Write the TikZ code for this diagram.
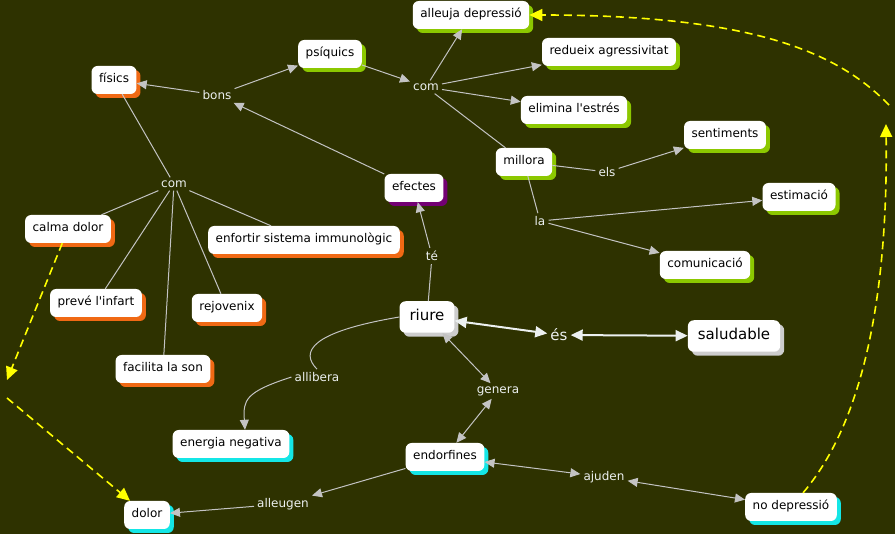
\documentclass[tikz,border=0pt]{standalone}
\usepackage{fontspec}
\setmainfont{DejaVu Sans}[Ligatures=TeXOff]
\usetikzlibrary{arrows.meta,shadows}

\definecolor{fons}{RGB}{46,50,0}
\definecolor{linia}{RGB}{195,195,195}
\definecolor{taronja}{RGB}{240,105,20}
\definecolor{verd}{RGB}{140,200,0}
\definecolor{lila}{RGB}{115,0,115}
\definecolor{cian}{RGB}{20,230,230}
\definecolor{gris}{RGB}{205,205,205}
\definecolor{groc}{RGB}{255,255,0}
\definecolor{blanc}{RGB}{236,240,240}

\tikzset{
  concepte/.style={fill=white, rounded corners=6pt, inner xsep=7.5pt, inner ysep=8pt,
    text height=9pt, text depth=3pt, font=\fontsize{12}{14}\selectfont},
  gran/.style={concepte, inner xsep=10pt, inner ysep=8.5pt, text height=11pt, text depth=3.5pt,
    font=\fontsize{15}{17}\selectfont},
  ombra/.style={drop shadow={shadow xshift=4pt, shadow yshift=-4pt, fill=#1, opacity=1}},
  frase/.style={text=blanc, inner sep=3pt, font=\fontsize{12}{14}\selectfont},
  enllac/.style={draw=linia, line width=1pt},
  fletxa/.style={enllac, -{Triangle[length=10pt,width=9pt]}},
  doble/.style={enllac, {Triangle[length=10pt,width=9pt]}-{Triangle[length=10pt,width=9pt]}},
  gruixut/.style={draw=blanc, line width=2pt, {Triangle[length=12pt,width=11pt]}-{Triangle[length=12pt,width=11pt]}},
  discontinu/.style={draw=groc, line width=1.6pt, dash pattern=on 8pt off 5pt, -{Triangle[length=13pt,width=12pt]}}
}

\begin{document}
\begin{tikzpicture}[x=1pt,y=-1pt]
  \path[use as bounding box, fill=fons] (0,0) rectangle (895,534);

  % Conceptes
  \node[gran, ombra=gris] (riure) at (427,317) {riure};
  \node[gran, ombra=gris] (saludable) at (734,336) {saludable};
  \node[concepte, ombra=lila] (efectes) at (414,188) {efectes};
  \node[concepte, ombra=taronja] (fisics) at (114,80) {físics};
  \node[concepte, ombra=verd] (psiquics) at (330,54) {psíquics};
  \node[concepte, ombra=verd] (alleuja) at (471,15) {alleuja depressió};
  \node[concepte, ombra=verd] (redueix) at (609,52) {redueix agressivitat};
  \node[concepte, ombra=verd] (elimina) at (574,110) {elimina l'estrés};
  \node[concepte, ombra=verd] (millora) at (524,162) {millora};
  \node[concepte, ombra=verd] (sentiments) at (725,135) {sentiments};
  \node[concepte, ombra=verd] (estimacio) at (799,197) {estimació};
  \node[concepte, ombra=verd] (comunicacio) at (705,265) {comunicació};
  \node[concepte, ombra=taronja] (calma) at (68,229) {calma dolor};
  \node[concepte, ombra=taronja] (enfortir) at (304,240) {enfortir sistema immunològic};
  \node[concepte, ombra=taronja] (preve) at (96,303) {prevé l'infart};
  \node[concepte, ombra=taronja] (rejovenix) at (227,308) {rejovenix};
  \node[concepte, ombra=taronja] (facilita) at (163,369) {facilita la son};
  \node[concepte, ombra=cian] (energia) at (231,444) {energia negativa};
  \node[concepte, ombra=cian] (endorfines) at (445,457) {endorfines};
  \node[concepte, ombra=cian] (dolor) at (147,515) {dolor};
  \node[concepte, ombra=cian] (nodep) at (791,507) {no depressió};

  % Frases d'enllaç
  \node[frase] (bons) at (217,95) {bons};
  \node[frase] (comP) at (426,87) {com};
  \node[frase] (els) at (607,172) {els};
  \node[frase] (la) at (540,221) {la};
  \node[frase] (te) at (432,256) {té};
  \node[frase, font=\fontsize{15}{17}\selectfont] (es) at (559,335) {és};
  \node[frase] (comF) at (174,184) {com};
  \node[frase] (allibera) at (317,377) {allibera};
  \node[frase] (genera) at (498,391) {genera};
  \node[frase] (alleugen) at (283,504) {alleugen};
  \node[frase] (ajuden) at (604,477) {ajuden};
  \coordinate (esq1) at (7,380);
  \coordinate (esq2) at (7,398);
  \coordinate (dre1) at (886,124);
  \coordinate (dre2) at (889,105);

  % Enllaços
  \draw[fletxa] (bons) -- (fisics);
  \draw[fletxa] (bons) -- (psiquics);
  \draw[fletxa] (efectes) -- (bons);
  \draw[fletxa] (psiquics) -- (comP);
  \draw[fletxa] (comP) -- (alleuja);
  \draw[fletxa] (comP) -- (redueix);
  \draw[fletxa] (comP) -- (elimina);
  \draw[enllac] (comP) -- (millora);
  \draw[enllac] (millora) -- (els);
  \draw[fletxa] (els) -- (sentiments);
  \draw[enllac] (millora) -- (la);
  \draw[fletxa] (la) -- (estimacio);
  \draw[fletxa] (la) -- (comunicacio);
  \draw[enllac] (fisics) -- (comF);
  \foreach \c in {calma,preve,facilita,rejovenix,enfortir}
    \draw[enllac] (comF) -- (\c);
  \draw[enllac] (riure) -- (te);
  \draw[fletxa] (te) -- (efectes);
  \draw[gruixut] (riure) -- (es);
  \draw[gruixut] (es) -- (saludable);
  \draw[enllac] (riure.west) .. controls (310,332) and (300,352) .. (allibera.north);
  \draw[fletxa] (allibera.west) .. controls (245,392) and (243,400) .. ([xshift=14pt]energia.north);
  \draw[doble] (riure) -- (genera);
  \draw[doble] (genera) -- (endorfines);
  \draw[fletxa] (endorfines) -- (alleugen);
  \draw[fletxa] (alleugen) -- (dolor);
  \draw[doble] (endorfines) -- (ajuden);
  \draw[doble] (ajuden) -- (nodep);

  % Línies grogues discontínues
  \draw[discontinu] (calma) -- (esq1);
  \draw[discontinu] (esq2) -- (dolor);
  \draw[discontinu] (nodep) .. controls (865,420) and (888,290) .. (dre1);
  \draw[discontinu] (dre2) .. controls (840,55) and (760,15) .. (alleuja);
\end{tikzpicture}
\end{document}
